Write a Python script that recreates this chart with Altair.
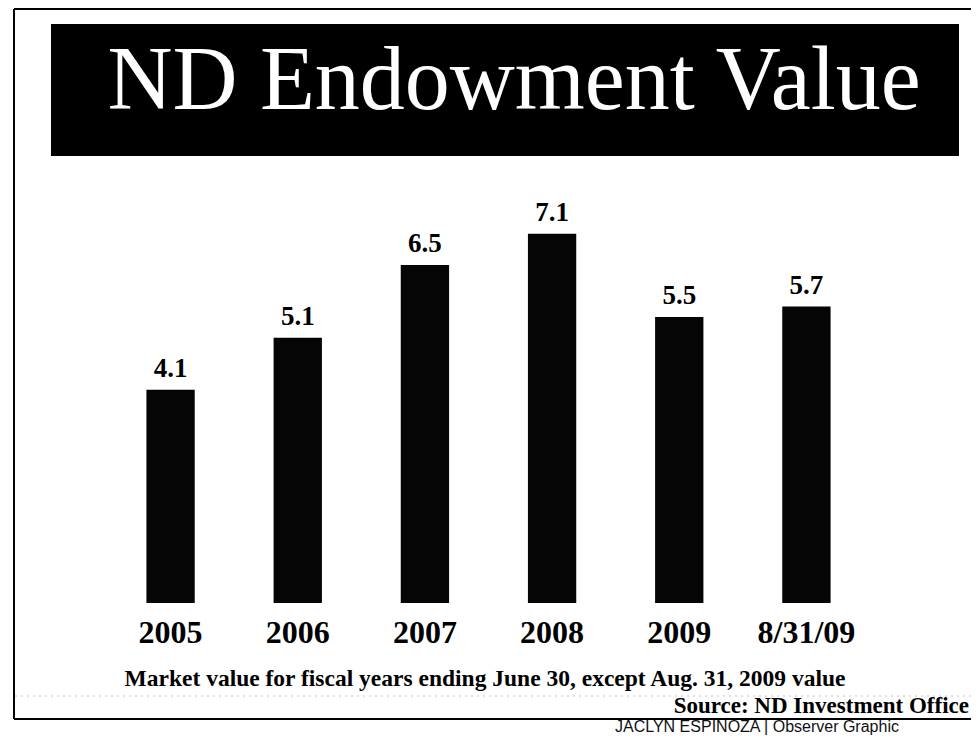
import altair as alt
import pandas as pd

# ---- data ----
categories = ["2005", "2006", "2007", "2008", "2009", "8/31/09"]
values = [4.1, 5.1, 6.5, 7.1, 5.5, 5.7]
labels = ["4.1", "5.1", "6.5", "7.1", "5.5", "5.7"]

title_text = "ND Endowment Value"
footnote_text = "Market value for fiscal years ending June 30, except Aug. 31, 2009 value"
source_text = "Source: ND Investment Office"
credit_text = "JACLYN ESPINOZA | Observer Graphic"

df = pd.DataFrame({"year": categories, "value": values, "label": labels})
one = pd.DataFrame({"k": [0]})

SERIF = "Liberation Serif"

x_enc = alt.X(
    "year:N",
    sort=categories,
    scale=alt.Scale(paddingInner=0.62, paddingOuter=0.31),
    axis=alt.Axis(
        title=None, labelAngle=0, domain=False, ticks=False, tickSize=0,
        labelFont=SERIF, labelFontWeight="bold", labelFontSize=32,
        labelColor="#000", labelBaseline="alphabetic", labelPadding=39,
    ),
)
y_enc = alt.Y("value:Q", scale=alt.Scale(domain=[0, 8], nice=False), axis=None)

bars = alt.Chart(df).mark_bar(color="#050505").encode(x=x_enc, y=y_enc)

vlabels = alt.Chart(df).mark_text(
    font=SERIF, fontWeight="bold", fontSize=27, baseline="alphabetic",
    dy=-13, color="#000",
).encode(x=alt.X("year:N", sort=categories), y="value:Q", text="label:N")

# ---- decorations (layout only) ----
frame_top = alt.Chart(one).mark_rule(color="#000", strokeWidth=2).encode(
    x=alt.value(-93), x2=alt.value(870), y=alt.value(-178)
)
frame_left = alt.Chart(one).mark_rule(color="#000", strokeWidth=2).encode(
    x=alt.value(-93), y=alt.value(-178), y2=alt.value(532)
)
frame_bottom = alt.Chart(one).mark_rule(color="#000", strokeWidth=2).encode(
    x=alt.value(-93), x2=alt.value(870), y=alt.value(532)
)
title_box = alt.Chart(one).mark_rect(color="#000").encode(
    x=alt.value(-56), x2=alt.value(852), y=alt.value(-163), y2=alt.value(-31)
)
title = alt.Chart(one).mark_text(
    text=title_text, font=SERIF, fontSize=90, color="#fff",
    align="center", baseline="alphabetic",
).encode(x=alt.value(407), y=alt.value(-78))

footnote = alt.Chart(one).mark_text(
    text=footnote_text, font=SERIF, fontWeight="bold", fontSize=23.5,
    color="#000", align="center", baseline="alphabetic",
).encode(x=alt.value(378), y=alt.value(499))

dotted = alt.Chart(one).mark_rule(
    color="#999", strokeWidth=1, strokeDash=[2, 4], opacity=0.6
).encode(x=alt.value(-92), x2=alt.value(864), y=alt.value(509))

source = alt.Chart(one).mark_text(
    text=source_text, font=SERIF, fontWeight="bold", fontSize=23,
    color="#000", align="right", baseline="alphabetic",
).encode(x=alt.value(862), y=alt.value(526))

credit = alt.Chart(one).mark_text(
    text=credit_text, font="Liberation Sans", fontSize=16,
    color="#111", align="left", baseline="alphabetic",
).encode(x=alt.value(508), y=alt.value(545))

chart = alt.layer(
    frame_top, frame_left, frame_bottom, title_box, title, bars, vlabels,
    footnote, dotted, source, credit
).properties(
    width=763,
    height=416,
    padding={"left": 99, "top": 179, "right": 101, "bottom": 133},
    autosize=alt.AutoSizeParams(type="none"),
    background="#ffffff",
).configure_view(stroke=None)

chart.save("out.html", embed_options={"renderer": "svg", "actions": False})
